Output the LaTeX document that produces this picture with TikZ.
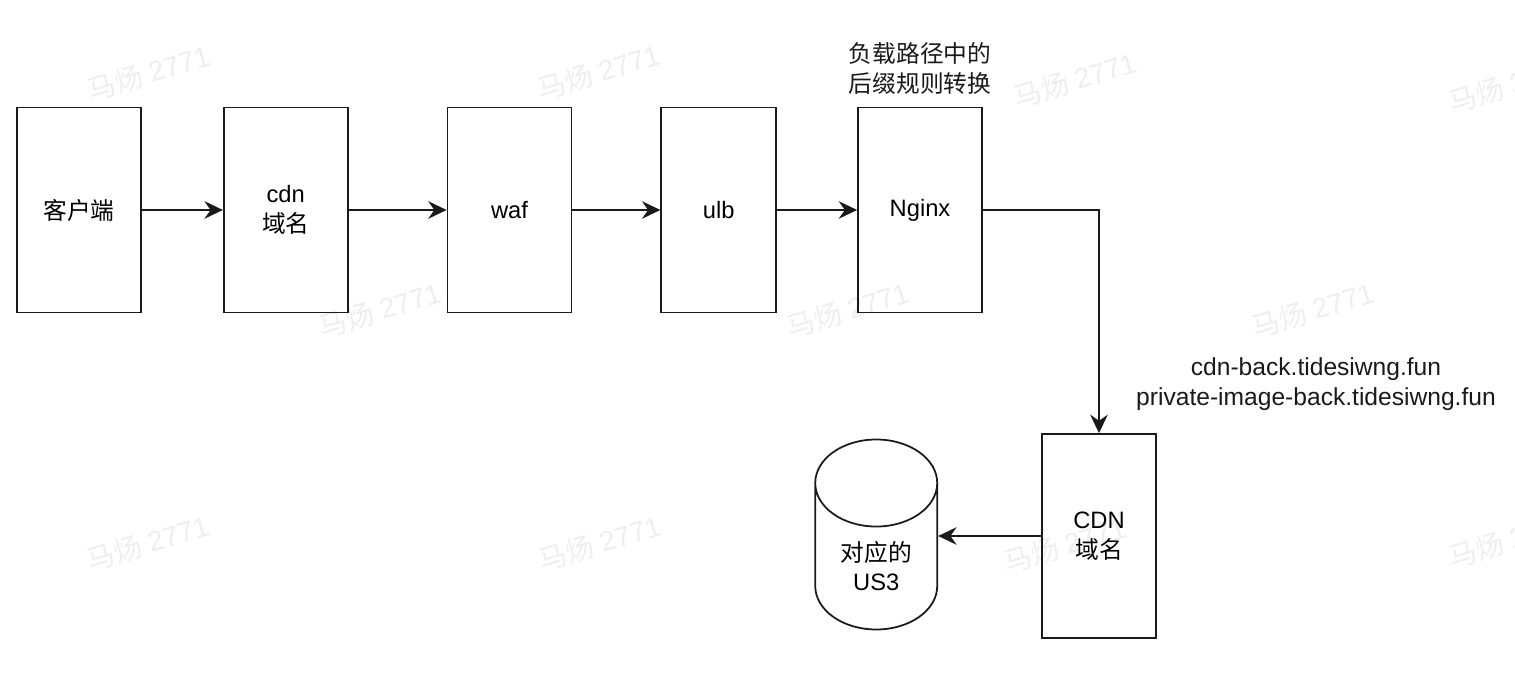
\documentclass[tikz,border=0pt]{standalone}
\usepackage{fontspec}
\setmainfont{Liberation Sans}
\newfontfamily\cjk{Noto Sans CJK SC}
\usepackage{tikz}
\usetikzlibrary{
  shapes.geometric,
  arrows.meta,
  positioning
}
\definecolor{InkBlack}{HTML}{1A1A1A}
\definecolor{MarkGray}{HTML}{EEEEEE}
\tikzset{
  % Tall service box
  svc/.style={
    rectangle, draw=InkBlack, line width=1pt,
    minimum width=2.48cm, minimum height=4.1cm,
    align=center, font=\fontsize{13.5pt}{17pt}\selectfont
  },
  % Storage cylinder
  dbs/.style={
    cylinder, shape border rotate=90, aspect=1.05,
    draw=InkBlack, line width=1pt,
    minimum width=2.44cm, minimum height=3.8cm,
    align=center, font=\fontsize{13.5pt}{17pt}\selectfont
  },
  % Arrow
  arr/.style={
    -{Stealth[length=10.5pt,width=10pt,inset=3.5pt]},
    line width=1pt, color=InkBlack
  },
  % Free text label
  lbl/.style={font=\fontsize{13.5pt}{17pt}\selectfont, color=InkBlack, align=center},
  % Watermark
  wmark/.style={font=\fontsize{16pt}{18pt}\selectfont, color=MarkGray, rotate=17}
}

\begin{document}
\begin{tikzpicture}
  \useasboundingbox (0,0) rectangle (30.3,-13.52);

  % Watermarks behind everything
  \foreach \x/\y [count=\i] in {2.98/-1.46, 11.98/-1.44, 21.5/-1.6, 30.2/-1.7,
                               7.6/-6.2, 16.96/-6.2, 26.26/-6.2,
                               2.96/-10.86, 12.0/-10.86, 21.3/-10.9, 30.2/-10.8}
    \node[wmark] (wm\i) at (\x,\y) {{\cjk 马炀} 2771};

  % Top row, left to right
  \node[svc] (client) at (1.58,-4.2) {{\cjk 客户端}};
  \node[svc, right=1.62cm of client] (cdn)   {cdn\\{\cjk 域名}};
  \node[svc, right=1.96cm of cdn]    (waf)   {waf};
  \node[svc, minimum width=2.3cm, right=1.76cm of waf] (ulb) {ulb};
  \node[svc, right=1.6cm of ulb]     (nginx) {Nginx};
  \node[lbl, above=0.12cm of nginx]  (rule)  {{\cjk 负载路径中的}\\{\cjk 后缀规则转换}};

  % Back-to-origin part
  \node[svc, minimum width=2.28cm, minimum height=4.08cm] (backcdn) at (21.98,-10.72) {CDN\\{\cjk 域名}};
  \node[dbs, left=2.06cm of backcdn, yshift=-0.6cm] (us3) {{\cjk 对应的}\\US3};
  \node[lbl, font=\fontsize{14pt}{17pt}\selectfont] (origin) at (26.32,-7.68)
    {cdn-back.tidesiwng.fun\\private-image-back.tidesiwng.fun};

  \draw[arr] (client) -- (cdn);
  \draw[arr] (cdn)    -- (waf);
  \draw[arr] (waf)    -- (ulb);
  \draw[arr] (ulb)    -- (nginx);
  \draw[arr] (nginx.east) -| (backcdn.north);
  \draw[arr] (backcdn.west) -- (backcdn.west -| us3.east);

\end{tikzpicture}
\end{document}
